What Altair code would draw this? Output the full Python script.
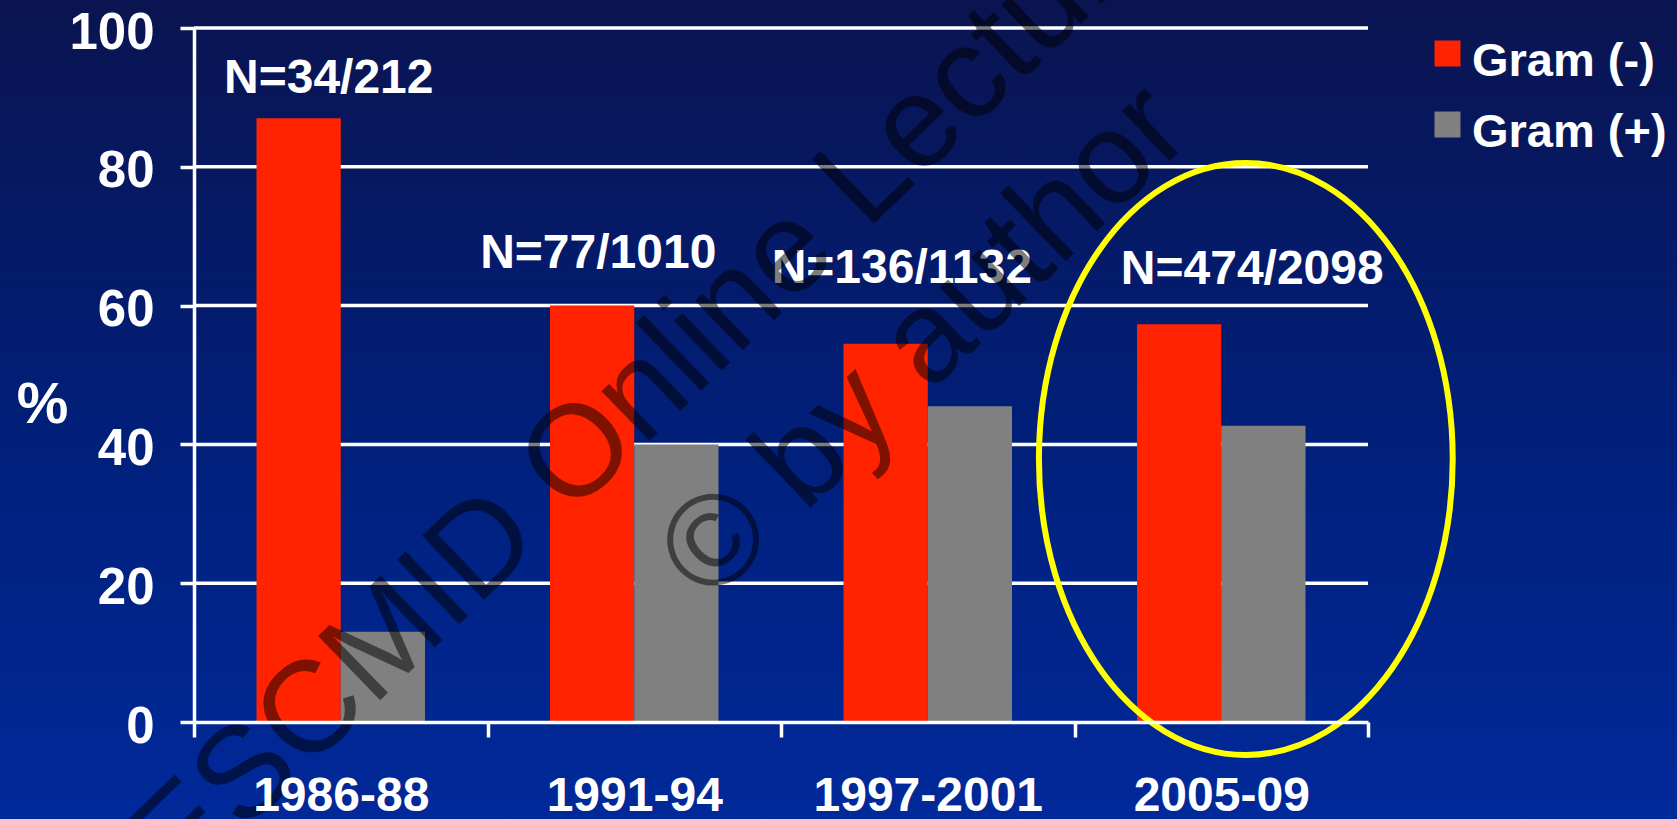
import altair as alt
import pandas as pd

# ---- data -----------------------------------------------------------------
periods = ["1986-88", "1991-94", "1997-2001", "2005-09"]
series = ["Gram (-)", "Gram (+)"]
gram_neg = [87.0, 60.0, 54.5, 57.3]
gram_pos = [13.0, 40.0, 45.5, 42.7]
bar_colors = ["#ff2300", "#808080"]

n_labels = ["N=34/212", "N=77/1010", "N=136/1132", "N=474/2098"]
label_level = [90.7, 65.4, 63.2, 63.1]   # baseline height of each N label (% units)
label_shift = [-12, -36, -26, 31]        # horizontal nudge from the period centre (px)

y_ticks = [0, 20, 40, 60, 80, 100]
highlight_period = "2005-09"
highlight_level = 37.9

watermark = ["ESCMID Online Lecture Library", "\u00a9 by author"]

# ---- layout ---------------------------------------------------------------
PAD_L, PAD_T, PAD_R, PAD_B = 194, 28, 309, 97
PLOT_W, PLOT_H = 1174, 694
FONT = "Liberation Sans"

bars = pd.DataFrame(
    [{"period": p, "series": series[0], "value": v} for p, v in zip(periods, gram_neg)]
    + [{"period": p, "series": series[1], "value": v} for p, v in zip(periods, gram_pos)]
)

x_scale = alt.Scale(domain=periods, paddingInner=0, paddingOuter=0)
y_scale = alt.Scale(domain=[0, 100], nice=False, zero=True)

x_axis = alt.Axis(
    title=None, tickBand="extent", tickSize=15, tickWidth=3.5, tickColor="white",
    domainColor="white", domainWidth=3.5, labelAngle=0, labelFontSize=48,
    labelFont=FONT, labelFontWeight="bold", labelColor="white", labelPadding=35,
    labelLimit=0, grid=False, zindex=1,
)
y_axis = alt.Axis(
    values=y_ticks, title="%", titleAngle=0, titleX=-152, titleY=377,
    titleFontSize=58, titleFont=FONT, titleFontWeight="bold", titleColor="white",
    titleAlign="center", titleBaseline="middle",
    tickSize=14, tickWidth=3.5, tickColor="white",
    domainColor="white", domainWidth=3.5, labelFontSize=51, labelFont=FONT,
    labelFontWeight="bold", labelColor="white", labelPadding=26, labelOffset=5,
    labelLimit=0, grid=False, zindex=1,
)


def xenc():
    return alt.X("period:N", sort=periods, scale=x_scale, axis=x_axis, title=None)


def yenc(field):
    return alt.Y(f"{field}:Q", scale=y_scale, axis=y_axis, title="%")


one_row = pd.DataFrame({"k": [0]})

# slide background: vertical navy-to-blue gradient over the whole canvas
background = alt.Chart(one_row).mark_rect(
    color=alt.LinearGradient(
        gradient="linear", x1=0, x2=0, y1=0, y2=1,
        stops=[
            alt.GradientStop(offset=0, color="#0a1450"),
            alt.GradientStop(offset=0.3, color="#051a68"),
            alt.GradientStop(offset=0.6, color="#00217f"),
            alt.GradientStop(offset=1, color="#00299a"),
        ],
    )
).encode(
    x=alt.value(-PAD_L), x2=alt.value(PLOT_W + PAD_R),
    y=alt.value(-PAD_T), y2=alt.value(PLOT_H + PAD_B),
)

# horizontal grid lines (drawn as marks so the bars sit on top of them)
grid = alt.Chart(pd.DataFrame({"tick": y_ticks[1:]})).mark_rule(
    color="white", strokeWidth=3.5
).encode(y=yenc("tick"), x=alt.value(0), x2=alt.value(PLOT_W))

legend_square = "M -1 -1.615 L 1 -1.615 L 1 0.385 L -1 0.385 Z"

bar_layer = alt.Chart(bars).mark_bar(opacity=1).encode(
    x=xenc(),
    xOffset=alt.XOffset("series:N", sort=series,
                        scale=alt.Scale(domain=series, paddingInner=0, paddingOuter=0.742)),
    y=yenc("value"),
    color=alt.Color(
        "series:N",
        scale=alt.Scale(domain=series, range=bar_colors),
        legend=alt.Legend(
            title=None, orient="none", legendX=1230, legendY=10, direction="vertical",
            padding=0, labelFontSize=47, labelFont=FONT, labelFontWeight="bold",
            labelColor="white", labelOffset=1, labelLimit=0, rowPadding=23,
            symbolType=legend_square, symbolSize=676, symbolStrokeWidth=0,
            symbolOpacity=1,
        ),
    ),
)

# sample-size labels above each period
label_layers = []
for period, text, level, shift in zip(periods, n_labels, label_level, label_shift):
    df = pd.DataFrame({"period": [period], "level": [level], "label": [text]})
    label_layers.append(
        alt.Chart(df).mark_text(
            align="center", baseline="alphabetic", dx=shift, fontSize=48,
            font=FONT, fontWeight="bold", color="white",
        ).encode(x=xenc(), y=yenc("level"), text="label:N")
    )

# yellow ellipse highlighting the latest period (centre nudged right of the band centre)
ka = 0.699
k = 0.5523
cx = 0.083


def f(v):
    return f"{v:.4f}"


ellipse_path = (
    f"M {f(cx)} -1 C {f(cx + k*ka)} -1 {f(cx + ka)} {-k} {f(cx + ka)} 0 "
    f"C {f(cx + ka)} {k} {f(cx + k*ka)} 1 {f(cx)} 1 "
    f"C {f(cx - k*ka)} 1 {f(cx - ka)} {k} {f(cx - ka)} 0 "
    f"C {f(cx - ka)} {-k} {f(cx - k*ka)} -1 {f(cx)} -1 Z"
)
highlight = alt.Chart(
    pd.DataFrame({"period": [highlight_period], "level": [highlight_level]})
).mark_point(
    shape=ellipse_path, size=350464, filled=False, color="#ffff00",
    strokeWidth=6, opacity=1,
).encode(x=xenc(), y=yenc("level"))

# diagonal copyright watermark
wm_layers = []
for text, px, py in zip(watermark, [614, 731], [205, 315]):
    wm_layers.append(
        alt.Chart(one_row).mark_text(
            text=text, font=FONT, fontSize=130, angle=316, align="center",
            baseline="middle", color="black", opacity=0.5,
        ).encode(x=alt.value(px), y=alt.value(py))
    )

chart = alt.layer(
    background, grid, bar_layer, *label_layers, highlight, *wm_layers
).properties(
    width=PLOT_W, height=PLOT_H,
    padding={"left": PAD_L, "top": PAD_T, "right": PAD_R, "bottom": PAD_B},
    autosize=alt.AutoSizeParams(type="none"),
).configure(
    background="#001e78", font=FONT,
).configure_view(stroke=None)

chart.save("out.html", embed_options={"renderer": "svg", "actions": False})
